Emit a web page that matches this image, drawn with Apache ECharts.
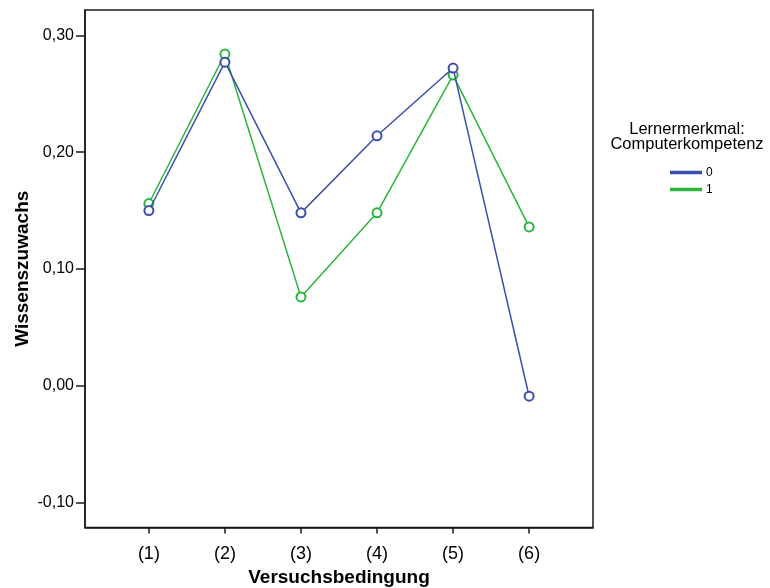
<!DOCTYPE html>
<html>
<head>
<meta charset="utf-8">
<script src="https://cdn.jsdelivr.net/npm/echarts@6/dist/echarts.min.js"></script>
<style>
  html, body { margin: 0; padding: 0; background: #fff; }
  #chart { width: 770px; height: 588px; }
</style>
</head>
<body>
<div id="chart"></div>
<script>
const categories = ['(1)', '(2)', '(3)', '(4)', '(5)', '(6)'];
const seriesNames = ['0', '1'];
const values0 = [0.150, 0.277, 0.148, 0.214, 0.272, -0.009];
const values1 = [0.156, 0.284, 0.076, 0.148, 0.266, 0.136];
const yTicks = [-0.1, 0, 0.1, 0.2, 0.3];
const xPositions = categories.map((c, i) => i + 1);

const FONT = '"Liberation Sans", Arial, sans-serif';
const BLUE = '#3b4fae';
const GREEN = '#2bb53d';
const AXIS = '#1a1a1a';

const chart = echarts.init(document.getElementById('chart'), null, { renderer: 'canvas' });

function mk(vals) { return xPositions.map((x, i) => [x, vals[i]]); }

const option = {
  backgroundColor: '#fff',
  animation: false,
  grid: {
    left: 85, top: 10, width: 508, height: 517.5,
    outerBoundsMode: 'none',
    containLabel: false,
    show: true, borderColor: AXIS, borderWidth: 1.5, backgroundColor: 'transparent'
  },
  xAxis: {
    type: 'value',
    min: 0.16, max: 6.84,
    name: 'Versuchsbedingung',
    nameLocation: 'middle',
    nameGap: 41,
    nameMoveOverlap: false,
    nameTextStyle: { fontFamily: FONT, fontWeight: 'bold', fontSize: 19, color: '#000' },
    axisLine: { show: true, onZero: false, lineStyle: { color: AXIS, width: 1.5 } },
    axisTick: { show: true, length: 6, lineStyle: { color: AXIS, width: 1.5 }, customValues: xPositions },
    axisLabel: {
      show: true, margin: 18, fontFamily: FONT, fontSize: 18, color: '#000',
      customValues: xPositions,
      formatter: v => categories[Math.round(v) - 1] || ''
    },
    splitLine: { show: false }
  },
  yAxis: {
    type: 'value',
    min: -0.1214, max: 0.3217,
    name: 'Wissenszuwachs',
    nameLocation: 'middle',
    nameRotate: 90,
    nameGap: 53,
    nameMoveOverlap: false,
    nameTextStyle: { fontFamily: FONT, fontWeight: 'bold', fontSize: 19, color: '#000' },
    axisLine: { show: true, onZero: false, lineStyle: { color: AXIS, width: 1.5 } },
    axisTick: { show: true, length: 9, lineStyle: { color: AXIS, width: 1.5 }, customValues: yTicks },
    axisLabel: {
      show: true, margin: 11, fontFamily: FONT, fontSize: 16, color: '#000',
      customValues: yTicks,
      formatter: v => v.toFixed(2).replace('.', ',')
    },
    splitLine: { show: false }
  },
  legend: {
    orient: 'vertical',
    left: 665, top: 161,
    itemWidth: 30, itemHeight: 1.5,
    itemGap: 4,
    icon: 'rect',
    textStyle: { fontFamily: FONT, fontSize: 12, color: '#000', lineHeight: 13 },
    data: seriesNames
  },
  graphic: [{
    type: 'text',
    x: 687, y: 122,
    style: {
      text: 'Lernermerkmal:\nComputerkompetenz',
      font: '16.5px ' + FONT,
      fill: '#000',
      align: 'center',
      verticalAlign: 'top',
      lineHeight: 15
    }
  }],
  series: [
    {
      name: seriesNames[0], type: 'line', data: mk(values0),
      symbol: 'emptyCircle', symbolSize: 9,
      lineStyle: { color: BLUE, width: 1.5 },
      itemStyle: { color: BLUE, borderColor: BLUE, borderWidth: 1.2 },
      emphasis: { disabled: true }, z: 3
    },
    {
      name: seriesNames[1], type: 'line', data: mk(values1),
      symbol: 'emptyCircle', symbolSize: 9,
      lineStyle: { color: GREEN, width: 1.5 },
      itemStyle: { color: GREEN, borderColor: GREEN, borderWidth: 1.2 },
      emphasis: { disabled: true }, z: 2
    }
  ]
};
chart.setOption(option);
</script>
</body>
</html>
